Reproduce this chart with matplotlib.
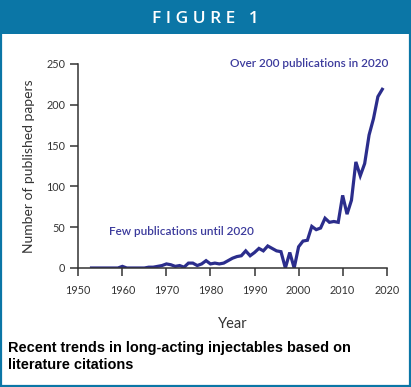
import matplotlib
matplotlib.use("Agg")
import matplotlib.pyplot as plt
from matplotlib.patches import Rectangle

years = list(range(1953, 2020))
papers = [0, 0, 0, 0, 0, 0, 0, 2, 0, 0, 0, 0, 0, 1, 1, 2, 3,   # 1953-1969
          5, 4, 2, 3, 1, 6, 6, 3, 5, 9,                           # 1970-1979
          5, 6, 5, 6, 9, 12, 14, 15, 21, 15,                      # 1980-1989
          19, 24, 21, 27, 24, 21, 20, 0, 19, 0,                   # 1990-1999
          26, 33, 34, 51, 47, 49, 61, 56, 57, 56,                 # 2000-2009
          89, 66, 83, 130, 113, 128, 163, 183, 210, 219]          # 2010-2019

x_ticks = [1950, 1960, 1970, 1980, 1990, 2000, 2010, 2020]
y_ticks = [0, 50, 100, 150, 200, 250]

W, H = 411, 387
fig = plt.figure(figsize=(W / 100, H / 100), dpi=100)
fig.patch.set_facecolor("white")

BLUE = "#0b76a6"
LINE = "#2b2d8c"
TXT = "#3b3a9c"
GRAY = "#333333"

# header band
fig.patches.append(Rectangle((0, 1 - 34 / H), 1, 34 / H, transform=fig.transFigure,
                             facecolor=BLUE, edgecolor="none", zorder=0))
# frame
fig.patches.append(Rectangle((1 / W, 1.5 / H), 1 - 2 / W, 1 - 2.5 / H, transform=fig.transFigure,
                             facecolor="none", edgecolor=BLUE, linewidth=1.6, zorder=5))
fig.text(0.5, 1 - 19 / H, "F I G U R E   1", color="white", fontsize=12.5,
         fontweight="semibold", ha="center", va="center", family="Open Sans")

ax = fig.add_axes([78.3 / W, (H - 268) / H, 308.4 / W, 204 / H])
ax.plot(years, papers, color=LINE, linewidth=2.3, solid_joinstyle="miter")
ax.set_xlim(1950, 2020)
ax.set_ylim(0, 250)
ax.set_xticks(x_ticks)
ax.set_yticks(y_ticks)
for s in ["top", "right"]:
    ax.spines[s].set_visible(False)
for s in ["left", "bottom"]:
    ax.spines[s].set_color(GRAY)
    ax.spines[s].set_linewidth(1.1)
ax.tick_params(axis="both", direction="out", length=6, width=1.1, color=GRAY,
               labelsize=7.8, labelcolor=GRAY)
ax.tick_params(axis="x", pad=6)
for lab in ax.get_xticklabels() + ax.get_yticklabels():
    lab.set_family("Lato")
ax.set_xlabel("Year", fontsize=10.5, color=GRAY, family="Lato", labelpad=15)
ax.set_ylabel("Number of published papers", fontsize=10, color=GRAY, family="Lato", labelpad=8)
ax.patch.set_alpha(0)

ax.text(2002.3, 250, "Over 200 publications in 2020", color=TXT, fontsize=8.5,
        ha="center", va="center", family="Lato", fontweight="semibold")
ax.text(1973.5, 45, "Few publications until 2020", color=TXT, fontsize=8.5,
        ha="center", va="center", family="Lato", fontweight="semibold")

fig.text(8 / W, 1 - 352 / H, "Recent trends in long-acting injectables based on",
         color="black", fontsize=10.45, fontweight="bold", ha="left", va="baseline",
         family="Liberation Sans")
fig.text(8 / W, 1 - 369 / H, "literature citations",
         color="black", fontsize=10.45, fontweight="bold", ha="left", va="baseline",
         family="Liberation Sans")

fig.savefig("out.png", dpi=100, facecolor="white")
